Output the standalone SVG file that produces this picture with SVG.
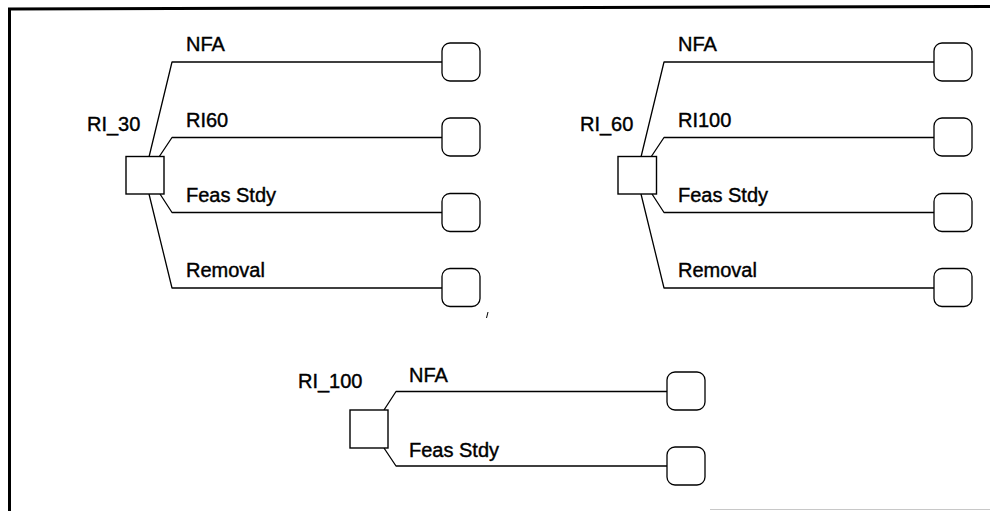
<svg xmlns="http://www.w3.org/2000/svg" width="990" height="511" viewBox="0 0 990 511">
<style>
  .bg { fill: #ffffff; }
  .frame { stroke: #000; fill: none; }
  .faint { stroke: #c8c8c8; fill: none; stroke-width: 1.2; }
  .link { stroke: #000; stroke-width: 1.3; fill: none; stroke-linejoin: round; }
  .dec { fill: #fff; stroke: #000; stroke-width: 1.4; }
  .term { fill: #fff; stroke: #000; stroke-width: 1.3; }
  .lbl { font-family: "Liberation Sans", Arial, sans-serif; font-size: 20px; fill: #000; stroke: #000; stroke-width: 0.4; }
</style>
<defs>
  <rect id="termBox" x="0" y="0" width="38" height="38" rx="8" ry="8" class="term"/>
</defs>
<rect class="bg" x="0" y="0" width="990" height="511"/>
<g id="frame">
  <line class="frame" x1="8" y1="9" x2="990" y2="6.5" stroke-width="3"/>
  <line class="frame" x1="9.5" y1="8" x2="9.5" y2="511" stroke-width="3"/>
  <line class="faint" x1="710" y1="509.5" x2="990" y2="509.5"/>
  <line class="frame" x1="488" y1="312" x2="486.5" y2="318" stroke-width="1"/>
</g>
<g id="connectors">
  <!-- RI_30 -->
  <polyline class="link" points="149,157 172,62 442,62"/>
  <polyline class="link" points="159,157 172,137.5 442,137.5"/>
  <polyline class="link" points="160,194 172,212.5 442,212.5"/>
  <polyline class="link" points="149,194 172,288 442,288"/>
  <!-- RI_60 -->
  <polyline class="link" points="641,157 664,62 934,62"/>
  <polyline class="link" points="651,157 664,137.5 934,137.5"/>
  <polyline class="link" points="652,194 664,212.5 934,212.5"/>
  <polyline class="link" points="641,194 664,288 934,288"/>
  <!-- RI_100 -->
  <polyline class="link" points="384,410 396,391.5 667,391.5"/>
  <polyline class="link" points="384,448 396,466 667,466"/>
</g>
<g id="node-RI_30">
  <rect class="dec" x="126" y="156.5" width="38" height="37.5"/>
  <text class="lbl" x="87" y="131">RI_30</text>
</g>
<g id="node-RI_30-NFA"><use href="#termBox" x="442" y="43"/><text class="lbl" x="186" y="51">NFA</text></g>
<g id="node-RI_30-RI60"><use href="#termBox" x="442" y="118"/><text class="lbl" x="186" y="127">RI60</text></g>
<g id="node-RI_30-Feas"><use href="#termBox" x="442" y="193.5"/><text class="lbl" x="186" y="202">Feas Stdy</text></g>
<g id="node-RI_30-Removal"><use href="#termBox" x="442" y="268.5"/><text class="lbl" x="186" y="277">Removal</text></g>
<g id="node-RI_60">
  <rect class="dec" x="618" y="156.5" width="38.5" height="37.5"/>
  <text class="lbl" x="580" y="131">RI_60</text>
</g>
<g id="node-RI_60-NFA"><use href="#termBox" x="934" y="43"/><text class="lbl" x="678" y="51">NFA</text></g>
<g id="node-RI_60-RI100"><use href="#termBox" x="934" y="118"/><text class="lbl" x="678" y="127">RI100</text></g>
<g id="node-RI_60-Feas"><use href="#termBox" x="934" y="193.5"/><text class="lbl" x="678" y="202">Feas Stdy</text></g>
<g id="node-RI_60-Removal"><use href="#termBox" x="934" y="268.5"/><text class="lbl" x="678" y="277">Removal</text></g>
<g id="node-RI_100">
  <rect class="dec" x="350" y="410" width="38" height="38"/>
  <text class="lbl" x="298" y="388">RI_100</text>
</g>
<g id="node-RI_100-NFA"><use href="#termBox" x="667" y="372"/><text class="lbl" x="409" y="382">NFA</text></g>
<g id="node-RI_100-Feas"><use href="#termBox" x="667" y="447"/><text class="lbl" x="409" y="457">Feas Stdy</text></g>
</svg>
